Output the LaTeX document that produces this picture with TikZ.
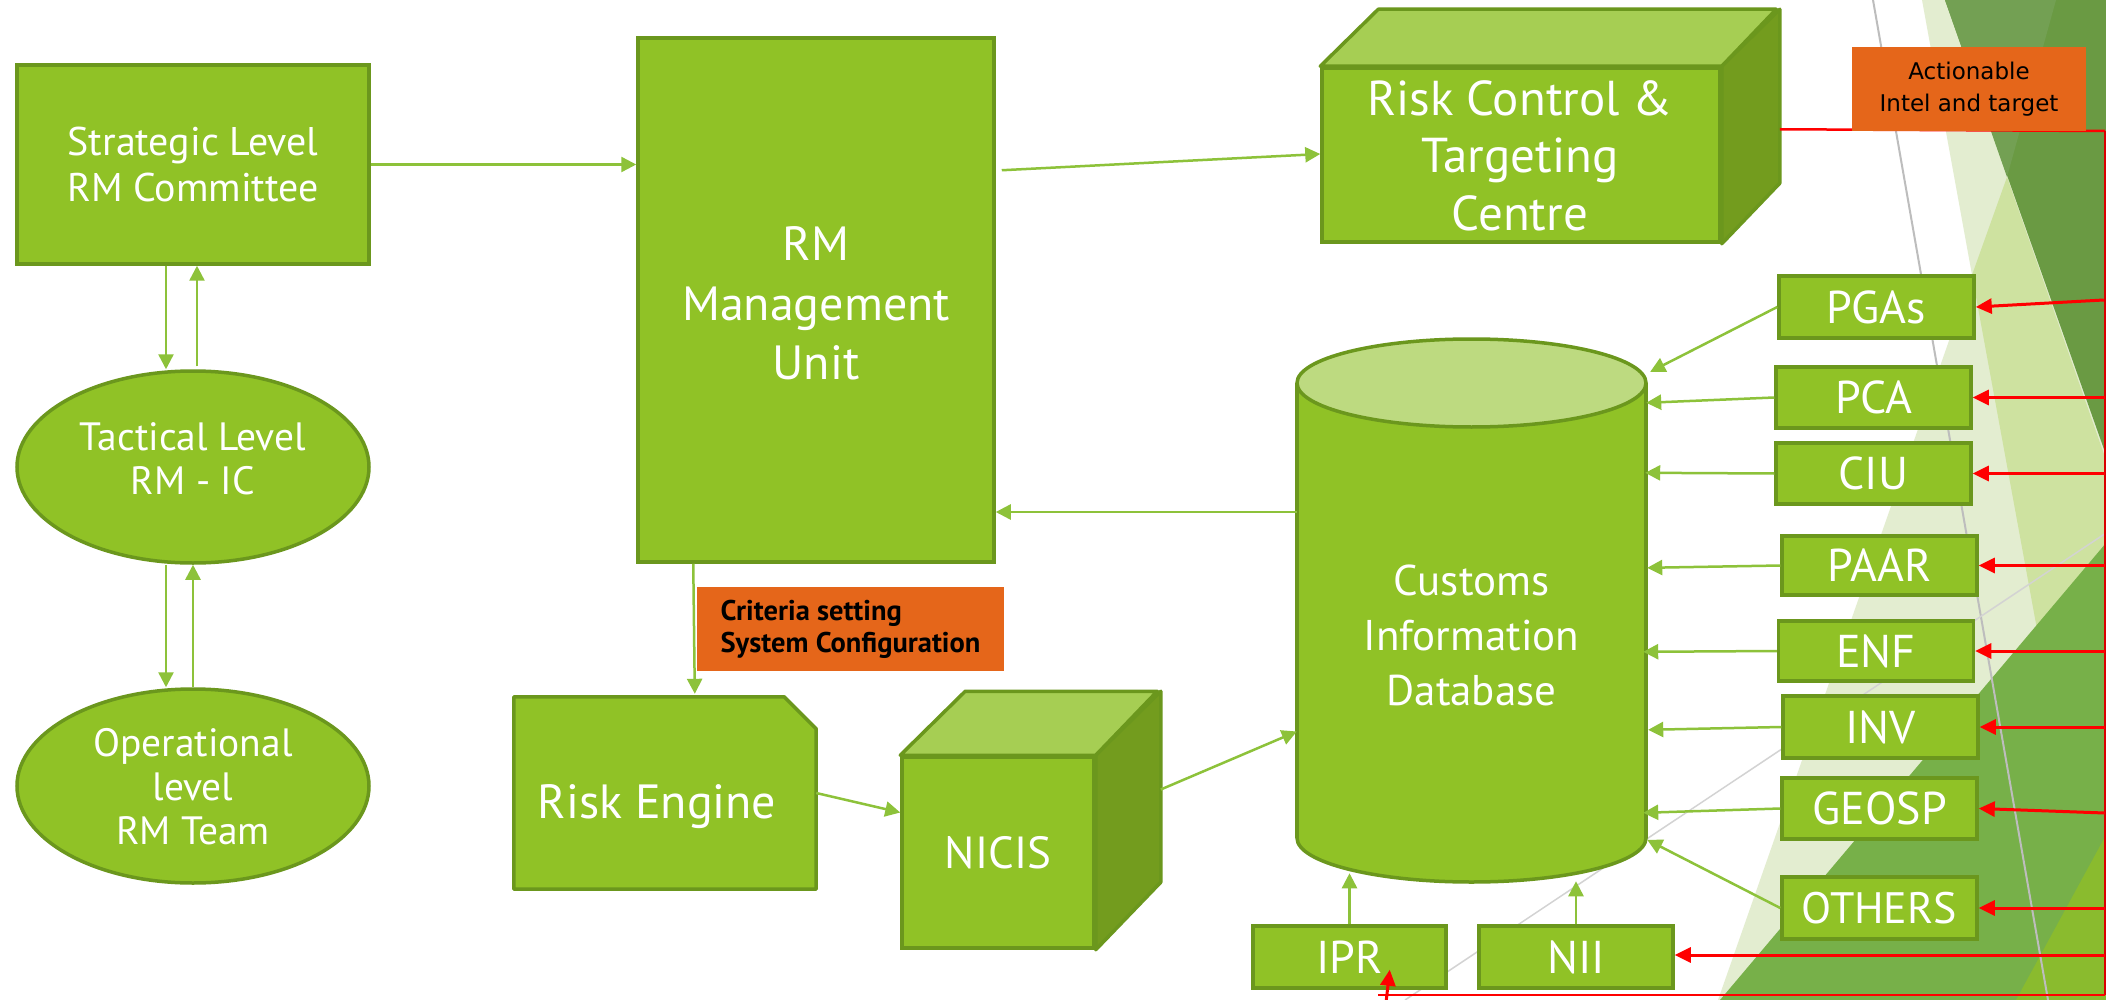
\documentclass[tikz,border=0pt]{standalone}
\usepackage{fontspec}
\setmainfont{PT Sans}
\newfontfamily\lblfont{DejaVu Sans}
\usetikzlibrary{shapes.geometric,arrows.meta,calc}
\definecolor{gfill}{HTML}{90C226}
\definecolor{gdraw}{HTML}{6B971D}
\definecolor{gtop}{HTML}{A6CE53}
\definecolor{gside}{HTML}{739C1E}
\definecolor{ctop}{HTML}{BDDA80}
\definecolor{gline}{HTML}{8DC23A}
\definecolor{orng}{HTML}{E5661A}
\definecolor{bgvl}{HTML}{E3EDD0}
\definecolor{bgml}{HTML}{CEE2A0}
\definecolor{bgdk}{HTML}{6A9A43}
\definecolor{bgdkl}{HTML}{73A053}
\definecolor{bgmg}{HTML}{77B049}
\definecolor{bgbr}{HTML}{8ABB2E}
\definecolor{grayA}{HTML}{BDBDBD}
\definecolor{grayB}{HTML}{D3D3D3}
\begin{document}
\begin{tikzpicture}[x=1pt,y=-1pt,
  box/.style={draw=gdraw, fill=gfill, line width=3.5pt, inner sep=0pt, rectangle, text=white},
  oval/.style={draw=gdraw, fill=gfill, line width=3.5pt, inner sep=0pt, ellipse},
  ghost/.style={inner sep=0pt, rectangle},
  wtxt/.style={text=white, align=center, inner sep=0pt},
  facestyle/.style={draw=gdraw, line width=3.5pt, line join=round},
  gar/.style={draw=gline, line width=2.5pt, -{Triangle[length=15pt,width=15pt]}},
  rar/.style={draw=red, line width=3pt, -{Triangle[length=16pt,width=15pt]}},
  rline/.style={draw=red, line width=2.5pt},
  orangetag/.style={fill=orng, inner sep=0pt, text=black},
  smallbox/.style={box, minimum width=195pt, minimum height=61pt, font=\fontsize{46}{52}\selectfont}
]
\useasboundingbox (0,0) rectangle (2106,1000);
\fill[white] (0,0) rectangle (2106,1000);

% ---- background decoration ----
\fill[bgvl] (1922,0) -- (2106,0) -- (2106,1000) -- (1718,1000) -- (1972,275) -- cycle;
\fill[bgml] (1972,275) -- (2007,177) -- (2106,460) -- (2106,1000) -- (2105,1000) -- cycle;
\fill[bgmg] (1720,1000) -- (2106,543) -- (2106,1000) -- cycle;
\fill[bgbr] (2016,1000) -- (2106,835) -- (2106,1000) -- cycle;
\fill[bgdk] (1945,0) -- (2106,0) -- (2106,455) -- cycle;
\fill[bgdkl] (1945,0) -- (2056,0) -- (2007,177) -- cycle;
\draw[grayA, line width=2pt] (1873,0) -- (2048,1000);
\draw[grayB, line width=1.5pt] (1405,1000) -- (2106,533);

% ---- left column ----
\node[box, minimum width=352pt, minimum height=199pt] (strat) at (193,164.5) {};
\node[wtxt, font=\fontsize{40}{46}\selectfont] (stratT) at (193,165) {Strategic Level\\RM Committee};
\node[oval, minimum width=352pt, minimum height=192pt] (tact) at (193,467) {};
\node[wtxt, font=\fontsize{39.5}{44}\selectfont] (tactT) at (193,459) {Tactical Level\\RM - IC};
\node[oval, minimum width=352pt, minimum height=194pt] (oper) at (193,786) {};
\node[wtxt, font=\fontsize{39.5}{44}\selectfont] (operT) at (193,787) {Operational\\level\\RM Team};

% ---- RM management unit ----
\node[box, minimum width=356pt, minimum height=524pt] (rmu) at (816,300) {};
\node[wtxt, font=\fontsize{48}{59.5}\selectfont] (rmuT) at (816,303.5) {RM\\Management\\Unit};

% ---- Risk control cube ----
\node[box, minimum width=398pt, minimum height=174pt] (rct) at (1521,155) {};
\path[facestyle, fill=gtop] (rct.north west) -- ++(58,-57) -- ++(398,0) -- (rct.north east) -- cycle;
\path[facestyle, fill=gside] (rct.north east) -- ++(58,-57) -- ++(0,174) -- (rct.south east) -- cycle;
\node[wtxt, font=\fontsize{49}{57.5}\selectfont] (rctT) at (1520,155.5) {Risk Control \&\\Targeting\\Centre};

% ---- Risk engine ----
\node[ghost, minimum width=302pt, minimum height=192pt] (reng) at (665,793) {};
\path[facestyle, fill=gfill] (reng.north west) -- ($(reng.north east)+(-32,0)$) -- ($(reng.north east)+(0,32)$) -- (reng.south east) -- (reng.south west) -- cycle;
\node[wtxt, font=\fontsize{48}{56}\selectfont, anchor=base] (rengT) at (657,818) {Risk Engine};

% ---- NICIS cube ----
\node[box, minimum width=192pt, minimum height=191pt, font=\fontsize{45}{52}\selectfont] (nicis) at (998,852.5) {NICIS};
\path[facestyle, fill=gtop] (nicis.north west) -- ++(65,-64) -- ++(192,0) -- (nicis.north east) -- cycle;
\path[facestyle, fill=gside] (nicis.north east) -- ++(65,-64) -- ++(0,191) -- (nicis.south east) -- cycle;

% ---- Customs database cylinder ----
\node[ghost, minimum width=349pt, minimum height=543pt] (cid) at (1471.5,610.5) {};
\fill[gfill] (1297,383) rectangle (1646,838);
\fill[gfill] (1471.5,838) ellipse [x radius=174.5, y radius=44];
\begin{scope}
  \clip (1280,838) rectangle (1665,900);
  \draw[gdraw, line width=3.5pt] (1471.5,838) ellipse [x radius=174.5, y radius=44];
\end{scope}
\draw[gdraw, line width=3.5pt] (1297,383) -- (1297,838);
\draw[gdraw, line width=3.5pt] (1646,383) -- (1646,838);
\filldraw[fill=ctop, draw=gdraw, line width=3.5pt] (1471.5,383) ellipse [x radius=174.5, y radius=44];
\node[wtxt, font=\fontsize{43}{55}\selectfont] (cidT) at (1471.5,635) {Customs\\Information\\Database};

% ---- source boxes ----
\node[smallbox, minimum height=62pt] (pgas) at (1876.5,307) {PGAs};
\node[smallbox] (pca) at (1873.5,397.5) {PCA};
\node[smallbox] (ciu) at (1873.5,473.5) {CIU};
\node[smallbox, minimum height=59pt] (paar) at (1879.5,565.5) {PAAR};
\node[smallbox, minimum height=60pt] (enf) at (1876,651) {ENF};
\node[smallbox, minimum height=62pt] (inv) at (1880.5,727) {INV};
\node[smallbox] (geosp) at (1879.5,808.5) {GEOSP};
\node[smallbox, minimum height=62pt, font=\fontsize{44}{50}\selectfont] (others) at (1879.5,908) {OTHERS};
\node[smallbox, minimum width=193pt, minimum height=62pt] (ipr) at (1349.5,957) {IPR};
\node[smallbox, minimum width=194pt, minimum height=62pt] (nii) at (1576,957) {NII};

% ---- green connectors ----
\draw[gar] (strat.east) -- (strat.east -| rmu.west);
\draw[gar] ($(strat.south)+(-27,0)$) -- ($(tact.north)+(-27,0)$);
\draw[gar] ($(tact.north)+(4,-3)$) -- ($(strat.south)+(4,0)$);
\draw[gar] ($(tact.south)+(-27,0)$) -- ($(oper.north)+(-27,0)$);
\draw[gar] ($(oper.north)+(0,0)$) -- ($(tact.south)+(0,0)$);
\draw[gar] ($(rmu.north east)+(6,134)$) -- ($(rct.west)+(0,-1)$);
\coordinate (cidL) at (1297,512);
\draw[gar] (cidL) -- (cidL -| rmu.east);
\draw[gar] ($(rmu.south west)+(57,0)$) -- ($(reng.north west)+(181,-3)$);
\draw[gar] (reng.east) -- ($(nicis.west)+(0,-40)$);
\draw[gar] ($(nicis.east)+(65,-63)$) -- ($(cid.west)+(0,121)$);
\draw[gar] (pgas.west) -- ($(cid.north east)+(4,33)$);
\draw[gar] (pca.west) -- ($(cid.north east)+(0,64)$);
\draw[gar] (ciu.west) -- ($(cid.north east)+(-1,134)$);
\draw[gar] (paar.west) -- ($(cid.north east)+(1,229)$);
\draw[gar] (enf.west) -- ($(cid.north east)+(-3,313)$);
\draw[gar] (inv.west) -- ($(cid.north east)+(2,391)$);
\draw[gar] (geosp.west) -- ($(cid.north east)+(-3,474)$);
\draw[gar] (others.west) -- ($(cid.north east)+(1,501)$);
\draw[gar] (ipr.north) -- ($(ipr.north)+(0,-51)$);
\draw[gar] (nii.north) -- ($(nii.north)+(0,-43)$);

% ---- red connectors ----
\coordinate (busTop) at (2105,131);
\coordinate (busBot) at (2105,995);
\coordinate (iprTurn) at (1378,995);
\draw[rline] ($(rct.north east)+(58,63)$) -- (busTop);
\draw[draw=red!85!black, line width=1.5pt] (busTop) -- (busBot);
\draw[rar] ($(pgas.east)+(128,-7)$) -- (pgas.east);
\draw[rar] (busTop |- pca.east) -- (pca.east);
\draw[rar] (busTop |- ciu.east) -- (ciu.east);
\draw[rar] (busTop |- paar.east) -- (paar.east);
\draw[rar] (busTop |- enf.east) -- (enf.east);
\draw[rar] (busTop |- inv.east) -- (inv.east);
\draw[rar] ($(geosp.east)+(126,4.5)$) -- (geosp.east);
\draw[rar] (busTop |- others.east) -- (others.east);
\draw[rar] ($(busTop |- nii.east)+(0,-2)$) -- ($(nii.east)+(0,-2)$);
\draw[rline] (busBot) -- (iprTurn);
\draw[rar] ($(ipr.south east)+(-62,15)$) -- ($(ipr.south east)+(-58,-20)$);

% ---- orange labels ----
\node[orangetag, minimum width=234pt, minimum height=84pt, align=center, font=\lblfont\fontsize{23}{32}\selectfont] (act) at (1969,89) {Actionable\\Intel and target};
\node[orangetag, minimum width=307pt, minimum height=84pt, align=left, font=\bfseries\fontsize{28.5}{32}\selectfont] (crit) at (850.5,629) {Criteria setting\\System Configuration};
\end{tikzpicture}
\end{document}
